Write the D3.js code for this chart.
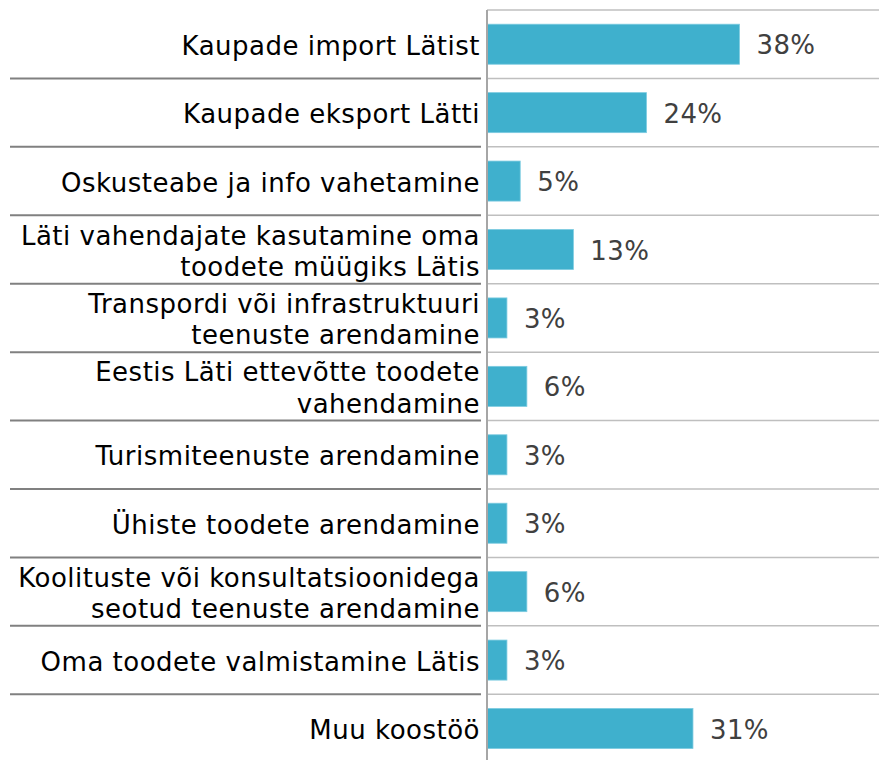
<!DOCTYPE html>
<html>
<head>
<meta charset="utf-8">
<script src="https://cdn.jsdelivr.net/npm/d3@7"></script>
<style>
  body { margin: 0; background: #fff; }
  svg text { font-family: "DejaVu Sans", Verdana, sans-serif; }
</style>
</head>
<body>
<div class="chart"></div>
<script>
var width = 879,
    height = 760,
    axisX = 487,
    marginTop = 10;

// categories, with manual line breaks as in the original
var categories = [
  "Kaupade import Lätist",
  "Kaupade eksport Lätti",
  "Oskusteabe ja info vahetamine",
  "Läti vahendajate kasutamine oma\ntoodete müügiks Lätis",
  "Transpordi või infrastruktuuri\nteenuste arendamine",
  "Eestis Läti ettevõtte toodete\nvahendamine",
  "Turismiteenuste arendamine",
  "Ühiste toodete arendamine",
  "Koolituste või konsultatsioonidega\nseotud teenuste arendamine",
  "Oma toodete valmistamine Lätis",
  "Muu koostöö"
];
var values = [38, 24, 5, 13, 3, 6, 3, 3, 6, 3, 31];

var y = d3.scaleBand()
    .domain(d3.range(categories.length))
    .range([marginTop, marginTop + 68.43 * categories.length])
    .paddingInner(0.415)
    .paddingOuter(0.2075);

var x = d3.scaleLinear()
    .domain([0, 59])
    .range([axisX, width]);

var svg = d3.select(".chart").append("svg")
    .attr("width", width)
    .attr("height", height);

var step = y.step();
var bounds = d3.range(categories.length + 1).map(function(i) { return marginTop + i * step; });

// light grid lines on the plot side
svg.selectAll(".grid")
    .data(bounds)
  .enter().append("line")
    .attr("class", "grid")
    .attr("x1", axisX)
    .attr("x2", width)
    .attr("y1", function(d) { return d; })
    .attr("y2", function(d) { return d; })
    .style("stroke", "#bfbfbf")
    .style("stroke-width", 1.5);

// darker separators between category labels
svg.selectAll(".sep")
    .data(bounds.slice(1))
  .enter().append("line")
    .attr("class", "sep")
    .attr("x1", 10)
    .attr("x2", 481)
    .attr("y1", function(d) { return d; })
    .attr("y2", function(d) { return d; })
    .style("stroke", "#808080")
    .style("stroke-width", 2);

svg.selectAll(".bar")
    .data(values)
  .enter().append("rect")
    .attr("class", "bar")
    .attr("x", x(0))
    .attr("y", function(d, i) { return y(i); })
    .attr("width", function(d) { return x(d) - x(0); })
    .attr("height", y.bandwidth())
    .style("fill", "#3fb0cd")
    .style("stroke", "#7ccbe0")
    .style("stroke-width", 0.8);

// vertical axis line
svg.append("line")
    .attr("x1", axisX)
    .attr("x2", axisX)
    .attr("y1", marginTop)
    .attr("y2", height)
    .style("stroke", "#a6a6a6")
    .style("stroke-width", 2);

svg.selectAll(".value")
    .data(values)
  .enter().append("text")
    .attr("class", "value")
    .attr("x", function(d) { return x(d) + 17; })
    .attr("y", function(d, i) { return y(i) + y.bandwidth() / 2 + 10; })
    .style("font-size", "26px")
    .style("letter-spacing", "0.4px")
    .style("fill", "#404040")
    .text(function(d) { return d + "%"; });

var labels = svg.selectAll(".label")
    .data(categories)
  .enter().append("text")
    .attr("class", "label")
    .attr("text-anchor", "end")
    .style("font-size", "26px")
    .style("letter-spacing", "0.5px")
    .style("fill", "#000");

labels.each(function(d, i) {
    var lines = d.split("\n"),
        cy = y(i) + y.bandwidth() / 2,
        y0 = lines.length > 1 ? cy - 5 : cy + 10.5;
    d3.select(this).selectAll("tspan")
        .data(lines)
      .enter().append("tspan")
        .attr("x", 480)
        .attr("y", function(l, k) { return y0 + k * 31.5; })
        .text(function(l) { return l; });
});
</script>
</body>
</html>
